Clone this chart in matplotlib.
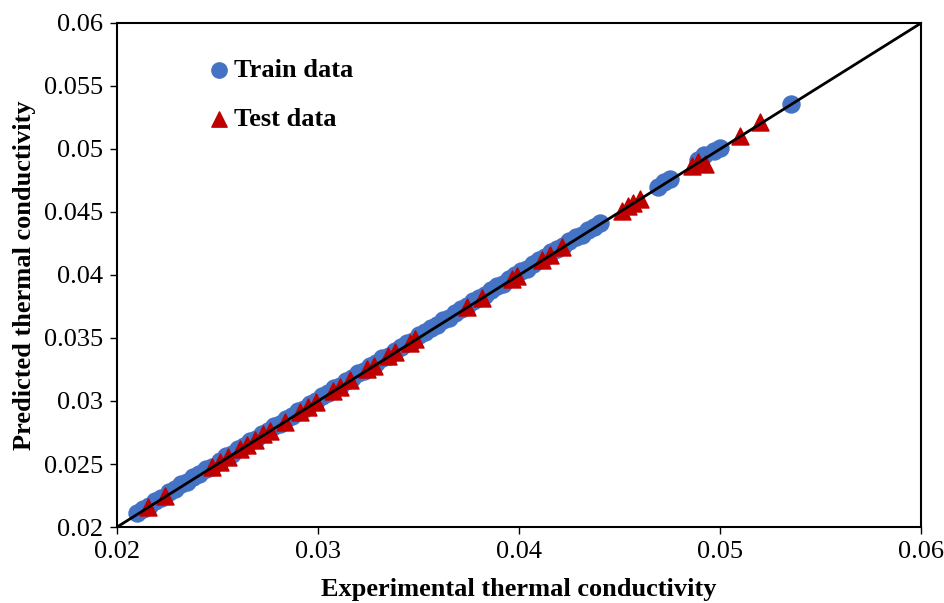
import matplotlib.pyplot as plt

plt.rcParams["font.family"] = "Liberation Serif"

# train data (experimental, predicted)
train_exp = [0.0210, 0.0213, 0.0216, 0.0219, 0.0222, 0.0226, 0.0229, 0.0232, 0.0235, 0.0238,
             0.0241, 0.0244, 0.0247, 0.0251, 0.0254, 0.0257, 0.0260, 0.0263, 0.0266, 0.0269,
             0.0272, 0.0275, 0.0278, 0.0281, 0.0284, 0.0287, 0.0290, 0.0293, 0.0296, 0.0299,
             0.0302, 0.0305, 0.0308, 0.0311, 0.0314, 0.0317, 0.0320, 0.0323, 0.0326, 0.0329,
             0.0332, 0.0335, 0.0338, 0.0341, 0.0344, 0.0347, 0.0350, 0.0353, 0.0356, 0.0359,
             0.0362, 0.0365, 0.0368, 0.0371, 0.0374, 0.0377, 0.0380, 0.0383, 0.0386, 0.0389,
             0.0392, 0.0395, 0.0398, 0.0401, 0.0404, 0.0407, 0.0410, 0.0413, 0.0416, 0.0419,
             0.0422, 0.0425, 0.0428, 0.0431, 0.0434, 0.0437, 0.0440, 0.0469, 0.0472, 0.0475,
             0.0489, 0.0492, 0.0497, 0.0500, 0.0535]
train_pred = [0.0211, 0.0214, 0.0217, 0.0221, 0.0223, 0.0228, 0.0230, 0.0234, 0.0236, 0.0240,
              0.0242, 0.0246, 0.0248, 0.0252, 0.0256, 0.0258, 0.0262, 0.0264, 0.0268, 0.0270,
              0.0274, 0.0276, 0.0280, 0.0282, 0.0286, 0.0288, 0.0292, 0.0294, 0.0298, 0.0300,
              0.0304, 0.0306, 0.0310, 0.0312, 0.0316, 0.0318, 0.0322, 0.0324, 0.0328, 0.0330,
              0.0334, 0.0336, 0.0340, 0.0343, 0.0346, 0.0348, 0.0352, 0.0355, 0.0358, 0.0360,
              0.0364, 0.0366, 0.0370, 0.0373, 0.0375, 0.0379, 0.0382, 0.0384, 0.0388, 0.0391,
              0.0393, 0.0397, 0.0400, 0.0403, 0.0405, 0.0409, 0.0412, 0.0414, 0.0418, 0.0421,
              0.0423, 0.0427, 0.0430, 0.0432, 0.0436, 0.0438, 0.0441, 0.0470, 0.0474, 0.0476,
              0.0491, 0.0495, 0.0498, 0.0501, 0.0536]

# test data (experimental, predicted)
test_exp = [0.02154, 0.02239, 0.02473, 0.02512, 0.02552, 0.02612, 0.02647, 0.02687, 0.02726, 0.02761,
            0.02836, 0.02910, 0.02950, 0.02990, 0.03075, 0.03110, 0.03160, 0.03244, 0.03279, 0.03348,
            0.03383, 0.03458, 0.03483, 0.03741, 0.03816, 0.03965, 0.03990, 0.04114, 0.04154, 0.04214,
            0.04512, 0.04542, 0.04567, 0.04602, 0.04861, 0.04891, 0.04925, 0.05100, 0.05200]
test_pred = [0.02160, 0.02245, 0.02480, 0.02515, 0.02555, 0.02620, 0.02650, 0.02690, 0.02735, 0.02765,
             0.02830, 0.02915, 0.02955, 0.02995, 0.03080, 0.03115, 0.03165, 0.03250, 0.03280, 0.03355,
             0.03390, 0.03460, 0.03490, 0.03745, 0.03820, 0.03970, 0.03995, 0.04120, 0.04160, 0.04220,
             0.04510, 0.04545, 0.04570, 0.04605, 0.04865, 0.04895, 0.04880, 0.05100, 0.05215]

fig = plt.figure(figsize=(9.44, 6.03), dpi=100)
ax = fig.add_axes([0.124, 0.126, 0.852, 0.836])

ax.scatter(train_exp, train_pred, s=150, color="#4472C4", marker="o", label="Train data", zorder=2)
ax.scatter(test_exp, test_pred, s=150, color="#C00000", marker="^", label="Test data", zorder=3)
ax.plot([0.02, 0.06], [0.02, 0.06], color="black", linewidth=2, zorder=4)

ax.set_xlim(0.02, 0.06)
ax.set_ylim(0.02, 0.06)
ax.set_xticks([0.02, 0.03, 0.04, 0.05, 0.06])
ax.set_xticklabels(["0.02", "0.03", "0.04", "0.05", "0.06"])
ax.set_yticks([0.02, 0.025, 0.03, 0.035, 0.04, 0.045, 0.05, 0.055, 0.06])
ax.set_yticklabels(["0.02", "0.025", "0.03", "0.035", "0.04", "0.045", "0.05", "0.055", "0.06"])
ax.tick_params(labelsize=19, direction="out", length=5, width=1, pad=5)
for sp in ax.spines.values():
    sp.set_linewidth(1.5)

ax.set_xlabel("Experimental thermal conductivity", fontsize=19, fontweight="bold", labelpad=11)
ax.set_ylabel("Predicted thermal conductivity", fontsize=19, fontweight="bold", labelpad=6)

ax.legend(loc="upper left", bbox_to_anchor=(0.1, 0.95), frameon=False,
          prop={"weight": "bold", "size": 19}, handletextpad=0.2, handlelength=0.8,
          labelspacing=0.95, scatterpoints=1, markerscale=0.9, borderaxespad=0)

fig.savefig("out.png", dpi=100)
